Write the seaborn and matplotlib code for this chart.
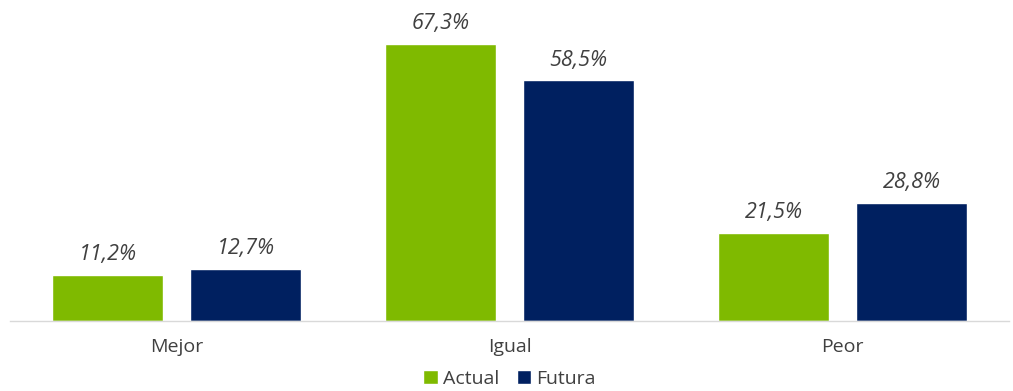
import matplotlib
matplotlib.use("Agg")
import matplotlib.pyplot as plt
import seaborn as sns
import pandas as pd

categories = ["Mejor", "Igual", "Peor"]
series_names = ["Actual", "Futura"]
actual = [11.2, 67.3, 21.5]
futura = [12.7, 58.5, 28.8]
palette = ["#7FBA00", "#002060"]

df = pd.DataFrame({
    "categoria": categories * 2,
    "serie": [series_names[0]] * 3 + [series_names[1]] * 3,
    "valor": actual + futura,
})

sns.set_theme(style="white")
plt.rcParams["font.family"] = ["Open Sans", "DejaVu Sans"]

fig = plt.figure(figsize=(10.13, 3.91), dpi=100)
ax = fig.add_axes([10 / 1013, 1 - 321 / 391, 999 / 1013, 288 / 391])

sns.barplot(data=df, x="categoria", y="valor", hue="serie", order=categories,
            hue_order=series_names, palette=palette, width=0.829, gap=0.2,
            saturation=1, ax=ax, legend=True)

for cont in ax.containers:
    labels = [f"{v:.1f}%".replace(".", ",") for v in cont.datavalues]
    ax.bar_label(cont, labels=labels, padding=7, fontsize=15.5,
                 fontstyle="italic", color="#404040")

ax.set_ylim(0, 70)
ax.set_xlim(-0.5, 2.5)
ax.set_xlabel("")
ax.set_ylabel("")
ax.set_yticks([])
ax.tick_params(axis="x", length=0, labelsize=14, labelcolor="#404040", pad=12)
for s in ["top", "right", "left"]:
    ax.spines[s].set_visible(False)
ax.spines["bottom"].set_color("#D9D9D9")
ax.spines["bottom"].set_linewidth(1)

leg = ax.legend(loc="center", bbox_to_anchor=(0.5, -0.2), ncol=2,
                frameon=False, fontsize=14, handlelength=0.75, handleheight=0.75,
                handletextpad=0.25, columnspacing=0.9, labelcolor="#404040",
                borderpad=0, borderaxespad=0)

fig.savefig("out.png", dpi=100)
